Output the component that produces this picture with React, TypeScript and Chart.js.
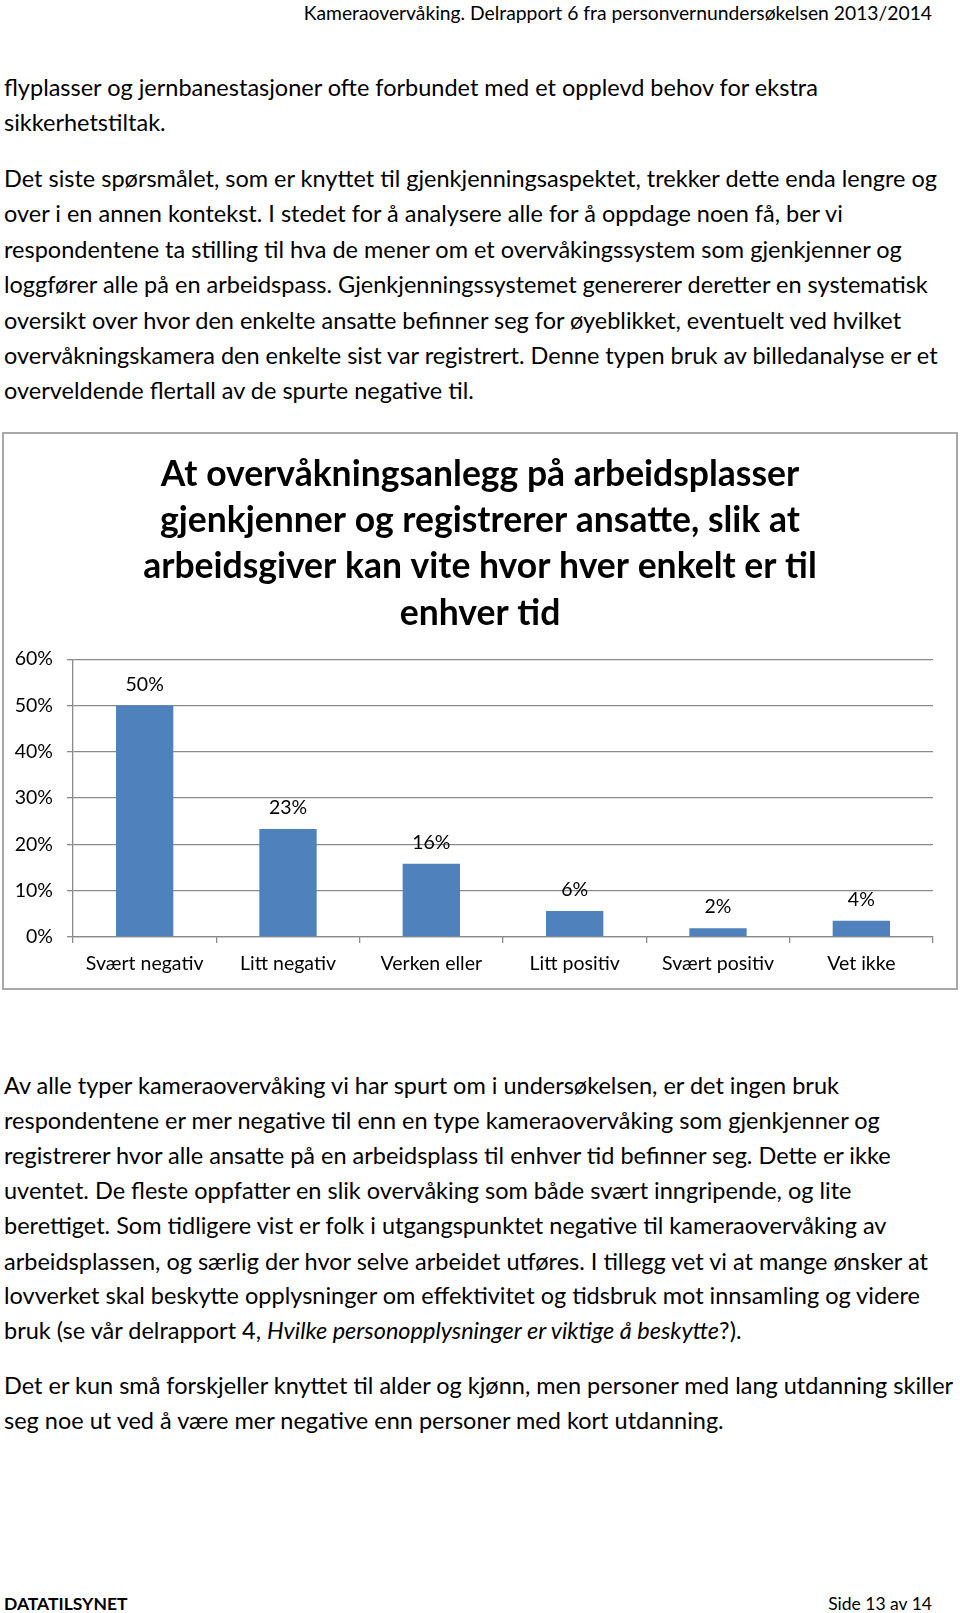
import React, { useEffect, useRef } from "react";
import { Chart, registerables } from "chart.js";

Chart.register(...registerables);

// ---------- chart data ----------
const categories = ["Svært negativ", "Litt negativ", "Verken eller", "Litt positiv", "Svært positiv", "Vet ikke"];
const values = [50, 23.3, 15.8, 5.6, 1.9, 3.5];
const valueLabels = ["50%", "23%", "16%", "6%", "2%", "4%"];
const yMin = 0;
const yMax = 60;
const yStep = 10;
const titleLines = [
  "At overvåkningsanlegg på arbeidsplasser",
  "gjenkjenner og registrerer ansatte, slik at",
  "arbeidsgiver kan vite hvor hver enkelt er til",
  "enhver tid",
];

// ---------- page text ----------
const headerText = "Kameraovervåking. Delrapport 6 fra personvernundersøkelsen 2013/2014";
const upperLines: [string, number][] = [
  ["flyplasser og jernbanestasjoner ofte forbundet med et opplevd behov for ekstra", 90],
  ["sikkerhetstiltak.", 125],
  ["Det siste spørsmålet, som er knyttet til gjenkjenningsaspektet, trekker dette enda lengre og", 181.5],
  ["over i en annen kontekst. I stedet for å analysere alle for å oppdage noen få, ber vi", 216.7],
  ["respondentene ta stilling til hva de mener om et overvåkingssystem som gjenkjenner og", 252],
  ["loggfører alle på en arbeidspass. Gjenkjenningssystemet genererer deretter en systematisk", 287.5],
  ["oversikt over hvor den enkelte ansatte befinner seg for øyeblikket, eventuelt ved hvilket", 323],
  ["overvåkningskamera den enkelte sist var registrert. Denne typen bruk av billedanalyse er et", 358],
  ["overveldende flertall av de spurte negative til.", 393],
];
const lowerLines: [string, number][] = [
  ["Av alle typer kameraovervåking vi har spurt om i undersøkelsen, er det ingen bruk", 1088],
  ["respondentene er mer negative til enn en type kameraovervåking som gjenkjenner og", 1123],
  ["registrerer hvor alle ansatte på en arbeidsplass til enhver tid befinner seg. Dette er ikke", 1158],
  ["uventet. De fleste oppfatter en slik overvåking som både svært inngripende, og lite", 1193],
  ["berettiget. Som tidligere vist er folk i utgangspunktet negative til kameraovervåking av", 1228],
  ["arbeidsplassen, og særlig der hvor selve arbeidet utføres. I tillegg vet vi at mange ønsker at", 1264],
  ["lovverket skal beskytte opplysninger om effektivitet og tidsbruk mot innsamling og videre", 1298],
];
const lastParaLines: [string, number][] = [
  ["Det er kun små forskjeller knyttet til alder og kjønn, men personer med lang utdanning skiller", 1388],
  ["seg noe ut ved å være mer negative enn personer med kort utdanning.", 1423],
];

const FONT = "Lato, 'Open Sans', sans-serif";
const BODY_FS = 23.5;
const TICK_FS = 19.5;
const GRID = "#8a8a8a";

function TextLine({ y, children, fs = BODY_FS }: { y: number; children: React.ReactNode; fs?: number }) {
  return (
    <div
      style={{
        position: "absolute",
        left: 4,
        top: y - 0.734 * fs,
        fontSize: fs,
        lineHeight: `${1.2 * fs}px`,
        whiteSpace: "nowrap",
        color: "#000",
      }}
    >
      {children}
    </div>
  );
}

const dataLabelPlugin = {
  id: "dataLabels",
  afterDatasetsDraw(chart: any) {
    const ctx = chart.ctx;
    const meta = chart.getDatasetMeta(0);
    ctx.save();
    ctx.font = `${TICK_FS}px ${FONT}`;
    ctx.fillStyle = "#000";
    ctx.textAlign = "center";
    ctx.textBaseline = "middle";
    meta.data.forEach((bar: any, i: number) => {
      ctx.fillText(valueLabels[i], bar.x, bar.y - 21);
    });
    ctx.restore();
  },
};

function BarChart() {
  const ref = useRef<HTMLCanvasElement | null>(null);
  useEffect(() => {
    if (!ref.current) return;
    const chart = new Chart(ref.current, {
      type: "bar",
      data: {
        labels: categories,
        datasets: [
          {
            data: values,
            backgroundColor: "#4F81BD",
            barPercentage: 0.4,
            categoryPercentage: 1.0,
            yAxisID: "y",
          },
        ],
      },
      options: {
        animation: false,
        responsive: false,
        devicePixelRatio: 1,
        layout: { padding: { left: 0, right: 0, top: 0, bottom: 0 } },
        plugins: {
          legend: { display: false },
          tooltip: { enabled: false },
          title: {
            display: true,
            text: titleLines,
            color: "#000",
            font: { family: FONT, size: 35.5, weight: "bold", lineHeight: 46.3 / 35.5 },
            padding: { top: 17, bottom: 23 },
          },
        },
        scales: {
          x: {
            afterFit: (s: any) => {
              s.height = 51;
            },
            grid: { drawOnChartArea: false, drawTicks: true, tickLength: 6, color: GRID, lineWidth: 1.3 },
            border: { display: true, color: GRID, width: 1.3 },
            ticks: { color: "#000", font: { family: FONT, size: TICK_FS }, padding: 9, autoSkip: false, maxRotation: 0 },
          },
          y: {
            min: yMin,
            max: yMax,
            afterFit: (s: any) => {
              s.width = 69;
            },
            grid: { color: GRID, lineWidth: 1.3, tickLength: 6 },
            border: { display: true, color: GRID, width: 1.3 },
            ticks: {
              stepSize: yStep,
              color: "#000",
              font: { family: FONT, size: TICK_FS },
              padding: 14,
              callback: (v: any) => `${v}%`,
            },
          },
          yRight: {
            position: "right",
            display: true,
            afterFit: (s: any) => {
              s.width = 23;
            },
            grid: { display: false, drawOnChartArea: false, drawTicks: false },
            border: { display: false },
            ticks: { display: false },
          },
        },
      },
      plugins: [dataLabelPlugin],
    });
    return () => chart.destroy();
  }, []);
  return <canvas ref={ref} width={952} height={554} style={{ display: "block", width: 952, height: 554 }} />;
}

export default function App() {
  return (
    <div
      style={{
        position: "absolute",
        left: 0,
        top: 0,
        width: 960,
        height: 1613,
        background: "#fff",
        fontFamily: FONT,
        overflow: "hidden",
      }}
    >
      <div
        style={{
          position: "absolute",
          right: 28,
          top: 20 - 0.987 * 19.3,
          fontSize: 19.3,
          lineHeight: `${1.2 * 19.3}px`,
          whiteSpace: "nowrap",
          color: "#000",
        }}
      >
        {headerText}
      </div>

      {upperLines.map(([t, y], i) => (
        <TextLine key={"u" + i} y={y}>
          {t}
        </TextLine>
      ))}

      <div
        style={{
          position: "absolute",
          left: 2,
          top: 432,
          width: 956,
          height: 558,
          border: "2px solid #a8a8a8",
          boxSizing: "border-box",
          background: "#fff",
        }}
      >
        <BarChart />
      </div>

      {lowerLines.map(([t, y], i) => (
        <TextLine key={"l" + i} y={y}>
          {t}
        </TextLine>
      ))}
      <TextLine y={1333}>
        bruk (se vår delrapport 4, <i>Hvilke personopplysninger er viktige å beskytte</i>?).
      </TextLine>
      {lastParaLines.map(([t, y], i) => (
        <TextLine key={"p" + i} y={y}>
          {t}
        </TextLine>
      ))}

      <div
        style={{
          position: "absolute",
          left: 4,
          top: 1610 - 0.987 * 17.5,
          fontSize: 17.5,
          fontWeight: "bold",
          lineHeight: `${1.2 * 17.5}px`,
          whiteSpace: "nowrap",
          color: "#000",
        }}
      >
        DATATILSYNET
      </div>
      <div
        style={{
          position: "absolute",
          right: 28,
          top: 1610 - 0.987 * 17.5,
          fontSize: 17.5,
          lineHeight: `${1.2 * 17.5}px`,
          whiteSpace: "nowrap",
          color: "#000",
        }}
      >
        Side 13 av 14
      </div>
    </div>
  );
}
